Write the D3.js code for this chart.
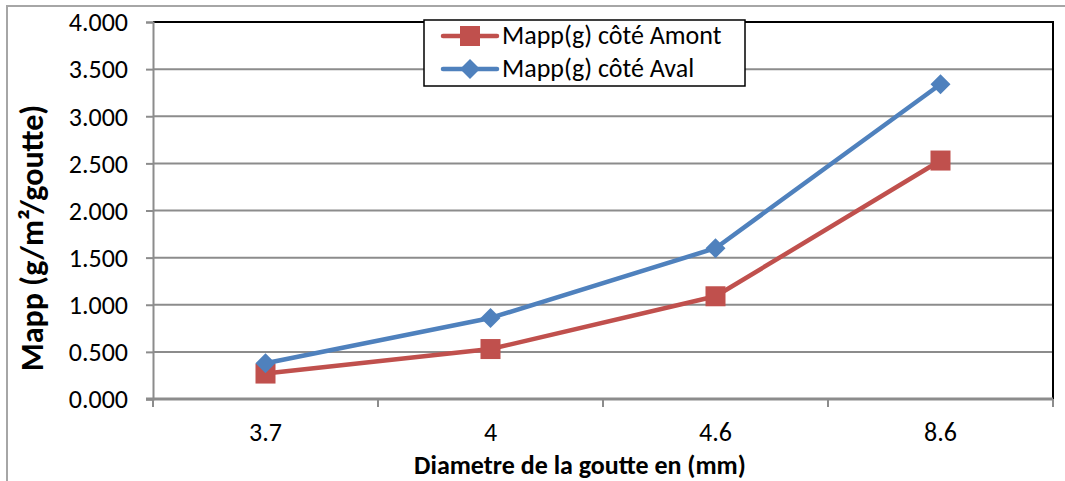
<!DOCTYPE html>
<html>
<head>
<meta charset="utf-8">
<script src="https://cdn.jsdelivr.net/npm/d3@7"></script>
<style>
  html, body { margin: 0; padding: 0; background: #fff; }
  svg { display: block; }
  text { font-family: Carlito, Calibri, Lato, "Open Sans", sans-serif; fill: #000; }
</style>
</head>
<body>
<svg id="chart" width="1065" height="481"></svg>
<script>
// Drop diameters (mm) on the x axis
const categories = ["3.7", "4", "4.6", "8.6"];
// Apparent mass per drop (g/m²/goutte)
const amontValues = [0.27, 0.53, 1.09, 2.53];
const avalValues = [0.38, 0.86, 1.60, 3.34];
const seriesNames = ["Mapp(g) côté Amont", "Mapp(g) côté Aval"];
const yTicks = [0, 0.5, 1, 1.5, 2, 2.5, 3, 3.5, 4];

const svg = d3.select("#chart");
const W = 1065, H = 481;
const plot = { left: 153, right: 1053, top: 22, bottom: 399 };

// Outer chart frame
svg.append("rect")
  .attr("x", 7).attr("y", 6)
  .attr("width", W + 10).attr("height", H + 10)
  .attr("fill", "#fff").attr("stroke", "#a6a6a6").attr("stroke-width", 2);

const x = d3.scaleBand().domain(categories).range([plot.left, plot.right]);
const y = d3.scaleLinear().domain([0, 4]).range([plot.bottom, plot.top]);
const fmt = d3.format(".3f");

// Horizontal gridlines
svg.append("g").selectAll("line")
  .data(yTicks.filter(t => t > 0 && t < 4))
  .join("line")
  .attr("x1", plot.left).attr("x2", plot.right)
  .attr("y1", d => y(d)).attr("y2", d => y(d))
  .attr("stroke", "#8c8c8c").attr("stroke-width", 2);

// Plot frame: top and right edges in black
svg.append("path")
  .attr("d", `M${plot.left},${y(4)}H${plot.right}V${plot.bottom}`)
  .attr("fill", "none").attr("stroke", "#000").attr("stroke-width", 2);

// Y axis
const yAxis = svg.append("g")
  .attr("transform", `translate(${plot.left},0)`)
  .call(d3.axisLeft(y).tickValues(yTicks).tickFormat(fmt).tickSize(7).tickPadding(18));
yAxis.select(".domain").attr("stroke", "#8c8c8c").attr("stroke-width", 2);
yAxis.selectAll(".tick line").attr("stroke", "#8c8c8c").attr("stroke-width", 2);
yAxis.selectAll(".tick text")
  .style("font-size", "26px").attr("fill", "#000").attr("dy", "0.34em");

// X axis with ticks at category boundaries
const xAxisG = svg.append("g")
  .attr("transform", `translate(0,${plot.bottom})`);
xAxisG.append("line")
  .attr("x1", plot.left - 7).attr("x2", plot.right)
  .attr("y1", 0).attr("y2", 0)
  .attr("stroke", "#8c8c8c").attr("stroke-width", 3);
const bounds = categories.map(c => x(c)).concat([x(categories[categories.length - 1]) + x.bandwidth()]);
xAxisG.selectAll("line.tk").data(bounds).join("line")
  .attr("class", "tk")
  .attr("x1", d => d).attr("x2", d => d)
  .attr("y1", 0).attr("y2", 8)
  .attr("stroke", "#8c8c8c").attr("stroke-width", 2);
xAxisG.selectAll("text").data(categories).join("text")
  .attr("x", d => x(d) + x.bandwidth() / 2)
  .attr("y", 42)
  .attr("text-anchor", "middle")
  .style("font-size", "26px")
  .text(d => d);

// Axis titles
svg.append("text")
  .attr("x", 580).attr("y", 474)
  .attr("text-anchor", "middle")
  .style("font-size", "26px").style("font-weight", "bold")
  .text("Diametre de la goutte en (mm)");
svg.append("text")
  .attr("transform", `translate(43,238) rotate(-90)`)
  .attr("text-anchor", "middle")
  .style("font-size", "32px").style("font-weight", "bold")
  .text("Mapp (g/m²/goutte)");

const cx = d => x(d) + x.bandwidth() / 2;
const line = d3.line().x(d => cx(d.c)).y(d => y(d.v));
const amont = categories.map((c, i) => ({ c, v: amontValues[i] }));
const aval = categories.map((c, i) => ({ c, v: avalValues[i] }));

const red = "#C0504D", blue = "#4F81BD";

// Amont series: red line with square markers
svg.append("path").datum(amont).attr("d", line)
  .attr("fill", "none").attr("stroke", red).attr("stroke-width", 4.5).attr("stroke-linejoin", "round");
svg.append("g").selectAll("rect").data(amont).join("rect")
  .attr("x", d => cx(d.c) - 10).attr("y", d => y(d.v) - 10)
  .attr("width", 20).attr("height", 20).attr("fill", red);

// Aval series: blue line with diamond markers
svg.append("path").datum(aval).attr("d", line)
  .attr("fill", "none").attr("stroke", blue).attr("stroke-width", 4.5).attr("stroke-linejoin", "round");
const diamond = s => `M0,${-s}L${s},0L0,${s}L${-s},0Z`;
svg.append("g").selectAll("path").data(aval).join("path")
  .attr("transform", d => `translate(${cx(d.c)},${y(d.v)})`)
  .attr("d", diamond(10)).attr("fill", blue);

// Legend
const lg = svg.append("g");
lg.append("rect")
  .attr("x", 424).attr("y", 20).attr("width", 321).attr("height", 66)
  .attr("fill", "#fff").attr("stroke", "#000").attr("stroke-width", 1.5);
const legendItems = [
  { name: seriesNames[0], color: red, shape: "square", yy: 36 },
  { name: seriesNames[1], color: blue, shape: "diamond", yy: 69 }
];
legendItems.forEach(it => {
  lg.append("line")
    .attr("x1", 443).attr("x2", 497).attr("y1", it.yy).attr("y2", it.yy)
    .attr("stroke", it.color).attr("stroke-width", 4.5).attr("stroke-linecap", "round");
  if (it.shape === "square") {
    lg.append("rect").attr("x", 460).attr("y", it.yy - 10)
      .attr("width", 20).attr("height", 20).attr("fill", it.color);
  } else {
    lg.append("path").attr("transform", `translate(470,${it.yy})`)
      .attr("d", diamond(10)).attr("fill", it.color);
  }
  lg.append("text")
    .attr("x", 502).attr("y", it.yy + 8)
    .style("font-size", "26px")
    .text(it.name);
});
</script>
</body>
</html>
